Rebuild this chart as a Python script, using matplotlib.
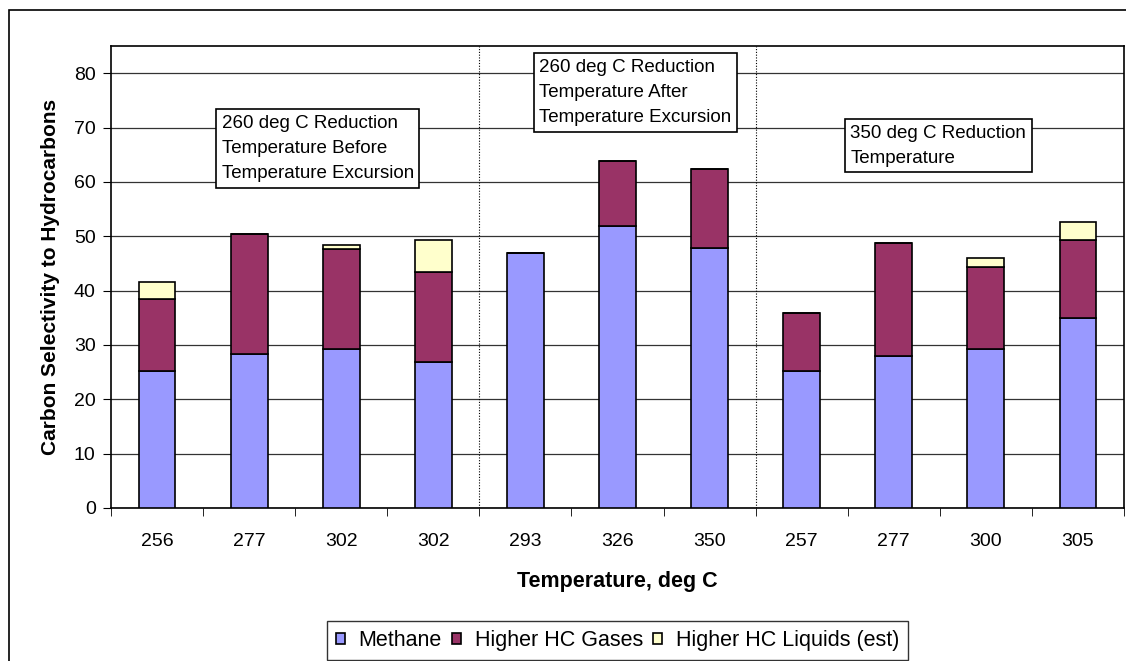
import numpy as np
import matplotlib.pyplot as plt
from matplotlib.patches import Rectangle

plt.rcParams['font.family'] = ['Liberation Sans', 'DejaVu Sans']

temps = ["256", "277", "302", "302", "293", "326", "350", "257", "277", "300", "305"]
methane = [25.2, 28.3, 29.2, 26.8, 46.9, 51.9, 47.9, 25.2, 28.0, 29.3, 35.0]
hc_gases = [13.2, 22.1, 18.5, 16.6, 0.0, 11.9, 14.4, 10.7, 20.8, 15.0, 14.3]
hc_liquids = [3.1, 0.0, 0.7, 5.9, 0.0, 0.0, 0.0, 0.0, 0.0, 1.7, 3.3]

box_notes = ["260 deg C Reduction\nTemperature Before\nTemperature Excursion",
             "260 deg C Reduction\nTemperature After\nTemperature Excursion",
             "350 deg C Reduction\nTemperature"]

fig = plt.figure(figsize = (11.26, 6.61), dpi = 100)
ax = fig.add_axes([0.0986, 0.2315, 0.8996, 0.6989])

x = np.arange(len(temps))
w = 0.4
b1 = ax.bar(x, methane, w, color = "#9999FF", edgecolor = "black", linewidth = 1.2,
            label = "Methane", zorder = 3)
b2 = ax.bar(x, hc_gases, w, bottom = methane, color = "#993366", edgecolor = "black",
            linewidth = 1.2, label = "Higher HC Gases", zorder = 3)
bottom2 = np.array(methane) + np.array(hc_gases)
b3 = ax.bar(x, hc_liquids, w, bottom = bottom2, color = "#FFFFCC", edgecolor = "black",
            linewidth = 1.2, label = "Higher HC Liquids (est)", zorder = 3)

ax.set_xlim(-0.5, len(temps) - 0.5)
ax.set_ylim(0, 85)
ax.set_yticks(np.arange(0, 81, 10))
ax.yaxis.grid(True, color = "#333333", linewidth = 0.9, zorder = 0)
ax.set_axisbelow(True)

# category labels centered, ticks at category boundaries
ax.set_xticks(x)
ax.set_xticklabels(temps, fontsize = 14)
ax.tick_params(axis = "x", which = "major", length = 0, pad = 18)
ax.set_xticks(np.arange(-0.5, len(temps), 1), minor = True)
ax.tick_params(axis = "x", which = "minor", length = 6, direction = "out")
ax.tick_params(axis = "y", labelsize = 14, length = 6, direction = "out", pad = 5)

for s in ax.spines.values():
    s.set_linewidth(1.2)

# section separators
for xs in [3.5, 6.5]:
    ax.axvline(xs, color = "black", linestyle = (0, (1, 1.5)), linewidth = 0.8, zorder = 2)

ax.set_xlabel("Temperature, deg C", fontsize = 15.5, fontweight = "bold", labelpad = 15)
ax.set_ylabel("Carbon Selectivity to Hydrocarbons", fontsize = 15, fontweight = "bold",
              labelpad = 10)

note_pos = [(0.70, 72.3), (4.15, 82.6), (7.53, 70.5)]
for (tx, ty), note in zip(note_pos, box_notes):
    ax.text(tx, ty, note, ha = "left", va = "top", fontsize = 13.5, linespacing = 1.62,
            zorder = 5,
            bbox = dict(boxstyle = "square,pad=0.3", facecolor = "white",
                        edgecolor = "black", linewidth = 1.2))

leg = fig.legend(handles = [b1, b2, b3], loc = "lower left", bbox_to_anchor = (327 / 1126, 0.002),
                 ncol = 3, fontsize = 15.5, frameon = True, fancybox = False,
                 handlelength = 0.42, handleheight = 0.42, handletextpad = 0.65,
                 columnspacing = 0.47, borderpad = 0.4, borderaxespad = 0)
leg.get_frame().set_edgecolor("black")
leg.get_frame().set_linewidth(1.0)

# outer chart border
fig.patches.append(Rectangle((9 / 1126, -0.01), 1.2, (661 - 10) / 661 + 0.01,
                             transform = fig.transFigure, fill = False,
                             edgecolor = "black", linewidth = 1.2, clip_on = False))

fig.savefig("out.png", dpi = 100)
